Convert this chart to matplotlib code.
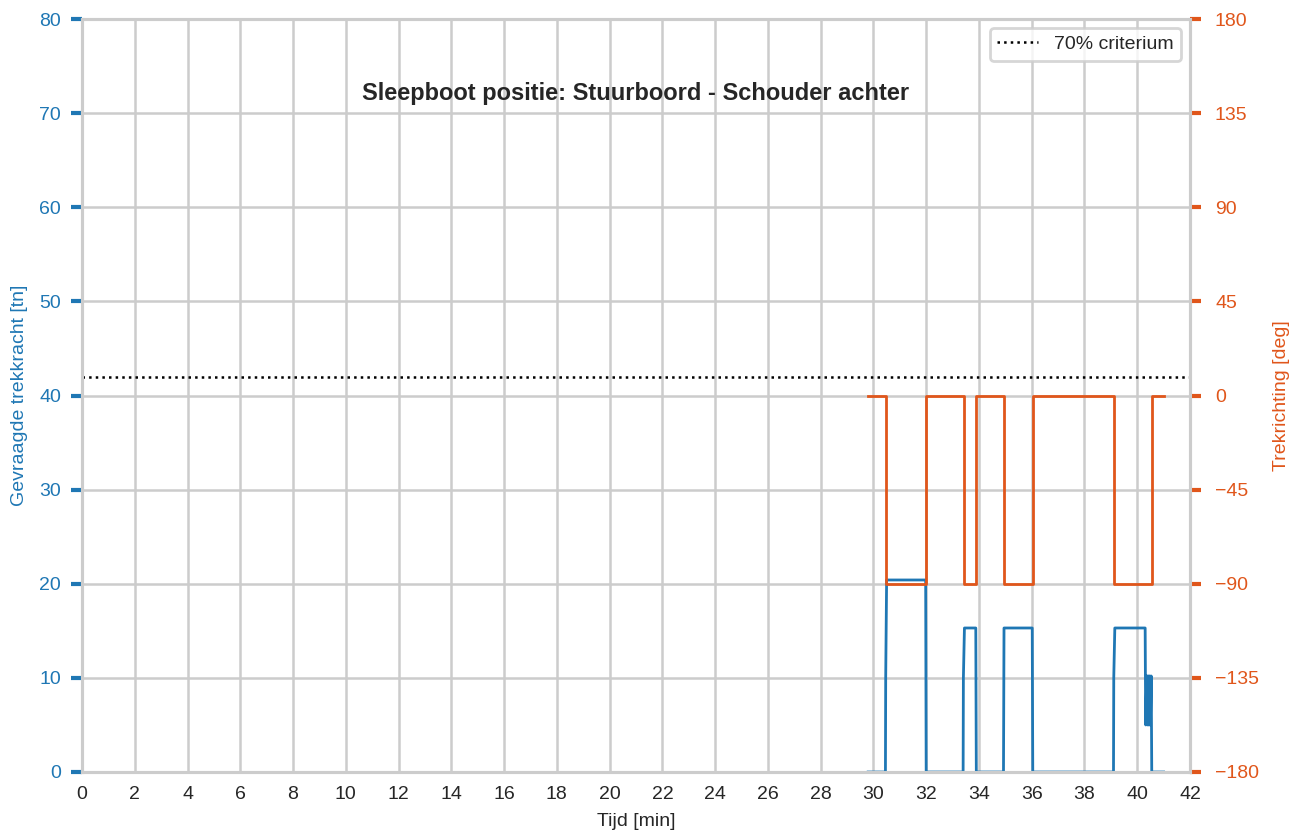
import matplotlib
matplotlib.use("Agg")
import matplotlib.pyplot as plt
import numpy as np

plt.rcParams['font.family'] = ['Liberation Sans', 'DejaVu Sans']

# Data
t_force = [29.8, 30.455, 30.465, 30.50, 31.98, 32.0, 33.40, 33.41, 33.45, 33.88, 33.90,
           34.93, 34.95, 36.02, 36.04, 39.10, 39.11, 39.15, 40.30, 40.32, 40.36, 40.38,
           40.40, 40.42, 40.44, 40.46, 40.48, 40.50, 40.53, 40.55, 41.0]
force = [0, 0, 10, 20.4, 20.4, 0, 0, 10, 15.3, 15.3, 0,
         0, 15.3, 15.3, 0, 0, 10, 15.3, 15.3, 5.0, 10.2, 5.0,
         10.2, 5.0, 10.2, 5.0, 10.2, 5.0, 10.2, 0, 0]

t_dir = [29.8, 30.48, 30.48, 32.0, 32.0, 33.43, 33.43, 33.89, 33.89, 34.95, 34.95,
         36.04, 36.04, 39.12, 39.12, 40.55, 40.55, 41.0]
direction = [0, 0, -90, -90, 0, 0, -90, -90, 0, 0, -90,
             -90, 0, 0, -90, -90, 0, 0]

criterium = 42.0
x_ticks = list(range(0, 43, 2))
left_ticks = list(range(0, 81, 10))
right_ticks = [-180, -135, -90, -45, 0, 45, 90, 135, 180]

blue = '#1f77b4'
orange = '#e0561b'
grid_c = '#cccccc'
text_c = '#262626'

fig = plt.figure(figsize=(12.95, 8.34), dpi=100)
ax = fig.add_axes([82/1295, 1-772/834, (1190-82)/1295, (772-19)/834])
ax2 = ax.twinx()

ax.plot(t_force, force, color=blue, lw=2.0, zorder=3)
ax.axhline(criterium, color='black', ls=':', lw=1.8, label='70% criterium', zorder=4)
ax2.plot(t_dir, direction, color=orange, lw=2.0, zorder=3)

ax.set_xlim(0, 42)
ax.set_ylim(0, 80)
ax2.set_ylim(-180, 180)
ax.set_xticks(x_ticks)
ax.set_yticks(left_ticks)
ax2.set_yticks(right_ticks)
ax2.set_yticklabels([str(v).replace('-', '\u2212') for v in right_ticks])

ax.grid(True, color=grid_c, lw=1.8)
ax.set_axisbelow(True)
ax2.grid(False)

for a in (ax, ax2):
    for s in a.spines.values():
        s.set_color(grid_c)
        s.set_linewidth(2.2)
ax.patch.set_facecolor('white')
ax2.patch.set_visible(False)

fs = 14
ax.tick_params(axis='y', colors=blue, labelsize=fs, length=8, width=3, direction='out', pad=7)
ax.tick_params(axis='x', colors=text_c, labelsize=fs, length=0, pad=10)
ax2.tick_params(axis='y', colors=orange, labelsize=fs, length=8, width=3, direction='out', pad=10)

ax.set_xlabel('Tijd [min]', fontsize=fs, color=text_c, labelpad=7)
ax.set_ylabel('Gevraagde trekkracht [tn]', fontsize=fs, color=blue, labelpad=8)
ax2.set_ylabel('Trekrichting [deg]', fontsize=fs, color=orange, labelpad=10)

ax.text(0.5, 0.901, 'Sleepboot positie: Stuurboord - Schouder achter', transform=ax.transAxes,
        ha='center', va='center', fontsize=17, fontweight='bold', color=text_c)

leg = ax2.legend(*ax.get_legend_handles_labels(), loc='upper right', fontsize=fs,
                 frameon=True, fancybox=True, borderpad=0.4, handlelength=2.1,
                 handletextpad=0.8, borderaxespad=0.45)
leg.get_frame().set_edgecolor(grid_c)
leg.get_frame().set_linewidth(2)
for txt in leg.get_texts():
    txt.set_color(text_c)

fig.savefig('out.png', dpi=100)
